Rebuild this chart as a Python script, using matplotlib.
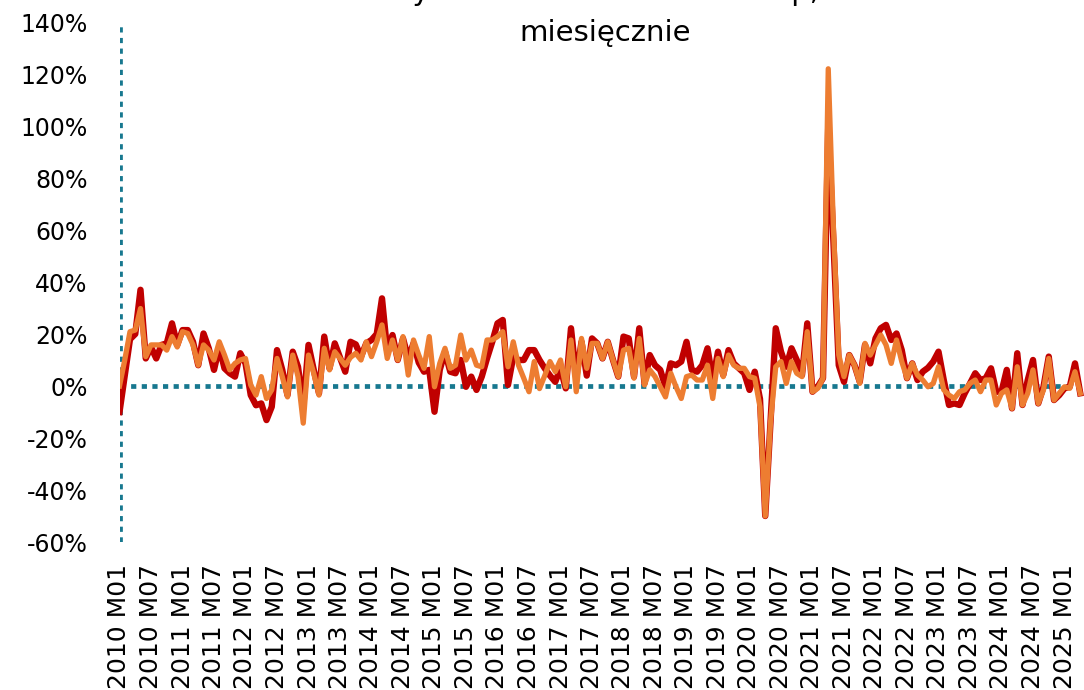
import matplotlib
matplotlib.use("Agg")
import matplotlib.pyplot as plt

# monthly y/y change, %, 2010 M01 .. 2025 M04
series_red = [
    -10, 4, 18, 20, 37, 10.6, 15, 10.6, 15.8, 16.4, 24.1, 15.8,
    21.5, 21.5, 17, 8, 20.2, 14.5, 6.2, 15, 6.8, 4.9, 3.6, 12.6,
    8.7, -3.5, -7.4, -6.7, -13.1, -8, 13.8, 6.2, -3.5, 13.2, 7.4, -8,
    15.8, 6.2, -2.8, 19, 6.8, 16.4, 11, 5.5, 17, 16, 11.3, 16.4,
    17.7, 20, 33.7, 13.2, 19.6, 10, 18.3, 10.6, 16.4, 9, 5.5, 6.2,
    -9.9, 6.2, 13.2, 5.5, 4.9, 10, -0.3, 3.6, -1.5, 3.6, 10.6, 17,
    24.1, 25.4, 0.4, 11.3, 10, 10, 13.8, 13.8, 10, 6.8, 4, 1.6,
    6.8, -0.9, 22.2, 3, 17, 4, 18.3, 16.4, 10.6, 17, 10, 3.6,
    19, 18.3, 3.6, 22.2, 1, 11.9, 8, 6.2, -0.3, 8.7, 8, 9.4,
    17, 6.2, 5.5, 8, 14.5, 2.3, 13.2, 4.2, 13.8, 8.7, 6.8, 4.9,
    -1.5, 5.5, -5, -50, -14, 22.2, 13.2, 7.4, 14.5, 10, 4.2, 24.1,
    -2.2, -0.3, 3, 100, 55, 8, 1.6, 11.9, 8, 1.6, 15.8, 8.7,
    18.3, 22.2, 23.5, 17.7, 20.2, 13.8, 3, 8.7, 2.3, 5.5, 7, 9.4,
    13.2, 2.3, -7.3, -6.7, -7.3, -2.8, 1, 4.9, 2.3, 3, 6.8, -2.2,
    -2.2, 6.2, -8.6, 12.6, -7.3, 2.3, 10, -6.7, -0.3, 11.3, -5.4, -3.5,
    -0.9, -0.3, 8.7, -2.8,
]
series_orange = [
    0, 10, 20.9, 21.5, 29.8, 11.3, 15.8, 15.8, 15.8, 13.8, 19, 15,
    20.9, 20.2, 15.8, 8, 15.8, 13.8, 10, 17, 11.9, 6.2, 8.7, 10,
    10.6, 0.4, -3.5, 3.6, -4.8, -1.5, 10.6, 3.6, -4.2, 11.9, 3.6, -14.3,
    11.9, 4.9, -3.5, 14.5, 6.2, 13.2, 10.6, 8, 11, 12.6, 10, 17,
    11.3, 17, 23.5, 10.6, 17.7, 10, 19, 4.2, 17.7, 11.9, 6.8, 19,
    -0.3, 8.7, 14.5, 6.8, 8, 19.6, 10, 13.8, 8, 7.4, 17.7, 17.7,
    19, 20.9, 7.4, 17, 8, 3, -2.2, 9.4, -1, 4, 9.4, 5.5,
    10, -0.3, 17.7, -2.2, 18.3, 6.8, 16.4, 16.4, 10.6, 17, 10, 3.6,
    13.8, 14.5, 3, 18.3, 0.4, 6.2, 3.6, -0.3, -4.2, 4.9, -0.3, -4.8,
    3.6, 4.2, 2.3, 2.3, 8, -4.8, 10.6, 3.6, 11.9, 8, 6.8, 6.8,
    3.6, 3, -8, -50, -14, 7.4, 9.4, 1, 9.4, 4.9, 3.6, 20.9,
    -2.2, -0.9, 3, 122, 60, 12, 3.6, 11.9, 8, 1, 16.4, 11.9,
    15.8, 19.6, 15.8, 8.7, 17.7, 9.4, 3, 8.7, 4.2, 2.3, -0.3, 1,
    7.4, -1.5, -3.5, -4.8, -2.2, -1.5, 1, 2.3, -2.2, 2.3, 2.3, -7.3,
    -2.8, -1.5, -8.6, 7.4, -7.3, -2.8, 6.2, -6.7, -1.5, 10.6, -5.4, -2.8,
    -0.3, -0.9, 5.5, -2.8,
]
months = [f"{y} M{m:02d}" for y in range(2010, 2026) for m in range(1, 13)][:len(series_red)]
title_lines = ["Dynamika wartości na zakup,", "miesięcznie"]

RED, ORANGE, TEAL = "#C00000", "#ED7D31", "#17788F"

fig = plt.figure(figsize=(10.84, 6.9), dpi=100)
W, H = 1084, 690
x0, y_top, y_bot = 119.5, 22, 542
ax = fig.add_axes([x0 / W, 1 - y_bot / H, (W - x0) / W, (y_bot - y_top) / H])

x = list(range(len(series_red)))
ax.plot(x, series_red, color=RED, lw=4.6, solid_joinstyle="round", zorder=3)
ax.plot(x, series_orange, color=ORANGE, lw=3.8, solid_joinstyle="round", zorder=4)

dots = (0, (1.1, 1.15))
ax.axhline(0, color=TEAL, lw=3.4, ls=dots, dash_capstyle="butt", zorder=2)
ax.axvline(0, color=TEAL, lw=3.4, ls=dots, dash_capstyle="butt", zorder=2)

ax.set_xlim(0, (W - x0) / 5.25)
ax.set_ylim(-60, 140)
ax.set_yticks(range(-60, 141, 20))
ax.set_yticklabels([f"{v}%" for v in range(-60, 141, 20)], fontsize=17)
ticks = list(range(0, len(months), 6))
ax.set_xticks(ticks)
ax.set_xticklabels([months[i] for i in ticks], rotation=90, fontsize=18)
ax.tick_params(axis="y", length=0, pad=23)
ax.tick_params(axis="x", length=0, pad=16)
for s in ax.spines.values():
    s.set_visible(False)

# first title line sits above the visible frame, as in the source
fig.text(605 / W, 1.0, title_lines[0], ha="center", va="baseline", fontsize=21)
fig.text(605 / W, 1 - 33 / H, title_lines[1], ha="center", va="center", fontsize=21)

fig.savefig("out.png", dpi=100)
